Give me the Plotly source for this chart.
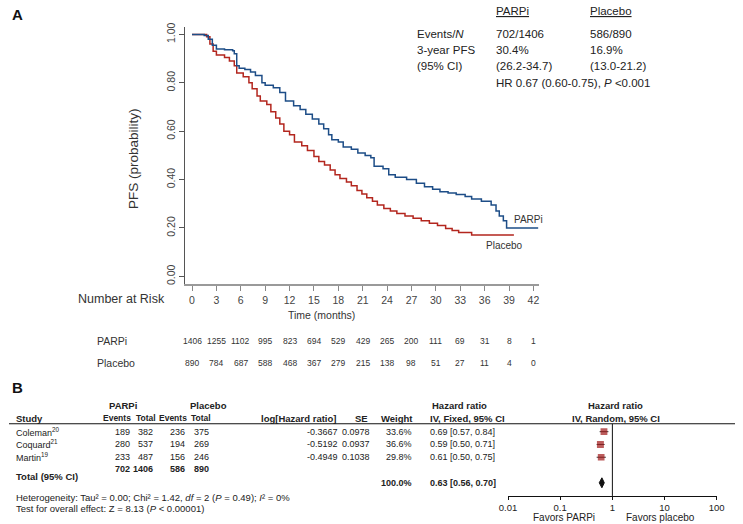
import plotly.graph_objects as go

W, H = 743, 524

# ---------------- Panel A: Kaplan-Meier data ----------------
parp_t = [0, 1.5, 2.0, 2.5, 3.0, 4.0, 5.0, 5.2, 5.5, 5.8, 6.5, 7.2, 7.8, 8.6, 9.0, 10.0,
          10.8, 11.5, 12.5, 13.3, 14.0, 14.8, 15.6, 16.2, 16.8, 17.2, 18.0, 18.6, 19.6,
          20.4, 21.3, 22.0, 22.4, 23.5, 24.2, 25.0, 26.4, 27.6, 28.6, 29.6, 30.5, 31.5,
          32.5, 33.6, 34.4, 35.6, 36.8, 37.4, 37.8, 38.3, 38.7, 42.6]
parp_s = [1.0, 0.995, 0.98, 0.955, 0.94, 0.937, 0.932, 0.92, 0.87, 0.86, 0.855, 0.845,
          0.83, 0.80, 0.79, 0.78, 0.76, 0.725, 0.705, 0.69, 0.67, 0.65, 0.63, 0.61, 0.585,
          0.565, 0.555, 0.535, 0.525, 0.51, 0.50, 0.49, 0.455, 0.445, 0.42, 0.41, 0.40,
          0.385, 0.37, 0.36, 0.35, 0.345, 0.338, 0.33, 0.32, 0.31, 0.295, 0.27, 0.25, 0.23,
          0.20, 0.20]

plac_t = [0, 1.8, 2.2, 2.6, 3.0, 4.0, 4.6, 5.2, 5.5, 6.3, 7.0, 7.4, 8.0, 8.4, 9.2, 9.7,
          10.3, 10.8, 11.3, 12.0, 12.6, 13.5, 14.2, 15.0, 15.6, 16.3, 17.0, 17.6, 18.2,
          19.0, 19.6, 20.3, 20.9, 21.5, 22.2, 22.8, 23.6, 24.4, 25.2, 26.2, 27.2, 28.2,
          29.2, 30.2, 31.2, 32.0, 32.8, 34.4, 39.6]
plac_s = [1.0, 0.99, 0.96, 0.93, 0.915, 0.905, 0.89, 0.87, 0.84, 0.825, 0.80, 0.775,
          0.745, 0.725, 0.71, 0.68, 0.655, 0.63, 0.60, 0.585, 0.555, 0.54, 0.52, 0.495,
          0.475, 0.46, 0.44, 0.42, 0.405, 0.39, 0.375, 0.355, 0.34, 0.325, 0.31, 0.295,
          0.28, 0.27, 0.26, 0.25, 0.24, 0.23, 0.22, 0.21, 0.198, 0.19, 0.181, 0.171, 0.171]

x_ticks = [0, 3, 6, 9, 12, 15, 18, 21, 24, 27, 30, 33, 36, 39, 42]
y_ticks = [0.0, 0.2, 0.4, 0.6, 0.8, 1.0]
risk_parp = [1406, 1255, 1102, 995, 823, 694, 529, 429, 265, 200, 111, 69, 31, 8, 1]
risk_plac = [890, 784, 687, 588, 468, 367, 279, 215, 138, 98, 51, 27, 11, 4, 0]

summary_rows = ["Events/<i>N</i>", "3-year PFS", "(95% CI)"]
summary_parp = ["702/1406", "30.4%", "(26.2-34.7)"]
summary_plac = ["586/890", "16.9%", "(13.0-21.2)"]
hr_text = "HR 0.67 (0.60-0.75), <i>P</i> &lt;0.001"

# ---------------- Panel B: meta-analysis data ----------------
studies = ["Coleman<sup>20</sup>", "Coquard<sup>21</sup>", "Martin<sup>19</sup>"]
parp_events = [189, 280, 233]
parp_total = [382, 537, 487]
plac_events = [236, 194, 156]
plac_total = [375, 269, 246]
log_hr = [-0.3667, -0.5192, -0.4949]
se = [0.0978, 0.0937, 0.1038]
weight = [33.6, 36.6, 29.8]
hr = [0.69, 0.59, 0.61]
hr_lo = [0.57, 0.50, 0.50]
hr_hi = [0.84, 0.71, 0.75]
tot_events = [702, 1406, 586, 890]
tot_weight = 100.0
tot_hr, tot_lo, tot_hi = 0.63, 0.56, 0.70
forest_ticks = [0.01, 0.1, 1, 10, 100]
forest_ticklabels = ["0.01", "0.1", "1", "10", "100"]
heterogeneity = ("Heterogeneity: Tau\u00b2 = 0.00; Chi\u00b2 = 1.42, <i>df</i> = 2 "
                 "(<i>P</i> = 0.49); <i>I</i>\u00b2 = 0%")
overall = "Test for overall effect: Z = 8.13 (<i>P</i> &lt; 0.00001)"

# ---------------- helpers ----------------
FONT = "Liberation Sans, Arial, sans-serif"
BLUE = "#1d4d87"
RED = "#b3261e"
DKRED = "#a01818"


def px(x):
    return x / W


def py(y):
    return 1 - y / H


# KM axis pixel mapping
X0_PIX, X42_PIX = 187.3, 536.7
ppm = (X42_PIX - X0_PIX) / 42.0
KM_L, KM_R = 180, 542
xr = [(KM_L - X0_PIX) / ppm, (KM_R - X0_PIX) / ppm]
Y1_PIX, Y0_PIX = 30.7, 275.0
ppu = Y0_PIX - Y1_PIX
KM_T, KM_B = 23, 283
yr = [-(KM_B - Y0_PIX) / ppu, 1 + (Y1_PIX - KM_T) / ppu]

# forest axis mapping
F_L, F_R = 510.7, 724.3
F_T, F_B = 423.8, 496.7
row_pix1, row_step = 431.8, 12.9
fy_top = 1 - (row_pix1 - F_T) / row_step
fy_bot = 1 + (F_B - row_pix1) / row_step
rows = [1, 2, 3]
tot_row = 5

fig = go.Figure()

fig.add_trace(go.Scatter(x=plac_t, y=plac_s, mode="lines", line=dict(color=RED, width=1.5, shape="hv"),
                         xaxis="x", yaxis="y", hoverinfo="skip"))
fig.add_trace(go.Scatter(x=parp_t, y=parp_s, mode="lines", line=dict(color=BLUE, width=1.5, shape="hv"),
                         xaxis="x", yaxis="y", hoverinfo="skip"))

# forest squares with CI whiskers
sizes = [5.5 + w / 25 for w in weight]
fig.add_trace(go.Scatter(
    x=hr, y=rows, mode="markers", xaxis="x2", yaxis="y2",
    marker=dict(symbol="square", color=DKRED, size=sizes, line=dict(width=0)),
    error_x=dict(type="data", symmetric=False,
                 array=[h - e for h, e in zip(hr_hi, hr)],
                 arrayminus=[e - l for e, l in zip(hr, hr_lo)],
                 color="#333", thickness=1, width=0),
    hoverinfo="skip"))
# pooled diamond
fig.add_trace(go.Scatter(
    x=[tot_lo, tot_hr, tot_hi, tot_hr, tot_lo],
    y=[tot_row, tot_row - 0.39, tot_row, tot_row + 0.39, tot_row],
    mode="lines", fill="toself", fillcolor="#111", line=dict(color="#111", width=1),
    xaxis="x2", yaxis="y2", hoverinfo="skip"))

ann = []


def T(x, y, text, size=9.5, anchor="left", bold=False, color="#222", angle=0):
    if bold:
        text = "<b>" + text + "</b>"
    ann.append(dict(x=px(x), y=py(y), xref="paper", yref="paper", text=text, showarrow=False,
                    xanchor=anchor, yanchor="middle",
                    font=dict(size=size, color=color, family=FONT), textangle=angle))


# Panel labels
T(1.5, 10.5, "A", size=15, bold=True, color="#111")
T(1.5, 387, "B", size=15, bold=True, color="#111")

# Panel A texts
T(127.5, 156, "PFS (probability)", size=13.5, anchor="center", color="#333", angle=-90)
T(515, 217.5, "PARPi", size=10, color="#333")
T(486.5, 244, "Placebo", size=10, color="#333")
T(496, 7.5, "<u>PARPi</u>", size=11.5)
T(593, 7.5, "<u>Placebo</u>", size=11.5)
for i, (lab, a, b) in enumerate(zip(summary_rows, summary_parp, summary_plac)):
    yy = 30 + i * 16.4
    T(416, yy, lab, size=11.5)
    T(496, yy, a, size=11.5)
    T(593, yy, b, size=11.5)
T(496, 79.3, hr_text, size=11.5)

T(162, 298, "Number at Risk", size=12.5, anchor="right", color="#333")
T(320, 314.5, "Time (months)", size=10.5, anchor="center", color="#333")
T(88, 340, "PARPi", size=10.5, color="#333")
T(88, 362, "Placebo", size=10.5, color="#333")
for t, a, b in zip(x_ticks, risk_parp, risk_plac):
    for yy, v in ((340, a), (362, b)):
        ann.append(dict(x=t, xref="x", y=py(yy), yref="paper", text=str(v), showarrow=False,
                        xanchor="center", yanchor="middle",
                        font=dict(size=8.5, color="#333", family=FONT)))

# Panel B table
VS = 9
HS = 8.5
T(116.7, 405, "PARPi", bold=True, anchor="center")
T(204, 405, "Placebo", bold=True, anchor="center")
T(461.5, 405, "Hazard ratio", bold=True, anchor="center")
T(620.7, 405, "Hazard ratio", bold=True, anchor="center")
T(5, 418, "Study", bold=True)
T(127, 418, "Events", bold=True, anchor="right", size=HS)
T(152, 418, "Total", bold=True, anchor="right", size=HS)
T(184, 418, "Events", bold=True, anchor="right", size=HS)
T(209, 418, "Total", bold=True, anchor="right", size=HS)
T(337, 418, "log[Hazard ratio]", bold=True, anchor="right")
T(369, 418, "SE", bold=True, anchor="right")
T(415, 418, "Weight", bold=True, anchor="right")
T(428.3, 418, "IV, Fixed, 95% CI", bold=True)
T(621, 418, "IV, Random, 95% CI", bold=True, anchor="center")

for r, s, a, b, c, d, l, e, w, h, lo, hi in zip(rows, studies, parp_events, parp_total, plac_events,
                                                 plac_total, log_hr, se, weight, hr, hr_lo, hr_hi):
    yy = row_pix1 + (r - 1) * row_step
    T(5, yy, s, size=VS)
    T(126, yy, str(a), anchor="right", size=VS)
    T(149.5, yy, str(b), anchor="right", size=VS)
    T(182, yy, str(c), anchor="right", size=VS)
    T(207, yy, str(d), anchor="right", size=VS)
    T(338.5, yy, f"{l:.4f}", anchor="right", size=VS)
    T(372, yy, f"{e:.4f}", anchor="right", size=VS)
    T(414, yy, f"{w:.1f}%", anchor="right", size=VS)
    T(429, yy, f"{h:.2f} [{lo:.2f}, {hi:.2f}]", size=VS)

for xr_, v in zip([126, 149.5, 182, 207], tot_events):
    T(xr_, 469, str(v), anchor="right", bold=True, size=VS)
T(5, 477, "Total (95% CI)", bold=True)
yt = row_pix1 + (tot_row - 1) * row_step
T(414, yt, f"{tot_weight:.1f}%", anchor="right", bold=True, size=VS)
T(429, yt, f"{tot_hr:.2f} [{tot_lo:.2f}, {tot_hi:.2f}]", bold=True, size=VS)
T(5, 498.5, heterogeneity)
T(5, 509.5, overall)
T(568, 518, "Favors PARPi", size=10, anchor="center")
T(666.7, 518, "Favors placebo", size=10, anchor="center")

shapes = [
    dict(type="line", xref="paper", yref="paper", x0=0, x1=1, y0=py(F_T), y1=py(F_T),
         line=dict(color="#111", width=1)),
    dict(type="line", xref="x2", yref="paper", x0=1, x1=1, y0=py(F_T), y1=py(F_B),
         line=dict(color="#111", width=1)),
]

fig.update_layout(
    width=W, height=H, margin=dict(l=0, r=0, t=0, b=0),
    paper_bgcolor="white", plot_bgcolor="white", showlegend=False,
    font=dict(family=FONT, color="#222"),
    annotations=ann, shapes=shapes,
    xaxis=dict(domain=[px(KM_L), px(KM_R)], range=xr, anchor="y", tickvals=x_ticks,
               showgrid=False, zeroline=False, showline=True, linecolor="#9a9a9a", linewidth=1.5,
               ticks="outside", ticklen=5, tickcolor="#888",
               tickfont=dict(size=10.5, color="#444", family=FONT)),
    yaxis=dict(domain=[py(KM_B), py(KM_T)], range=yr, anchor="x", tickvals=y_ticks,
               tickformat=".2f", tickangle=-90, showgrid=False, zeroline=False, showline=True,
               linecolor="#555", linewidth=1, ticks="outside", ticklen=5, tickcolor="#555",
               tickfont=dict(size=10.5, color="#444", family=FONT)),
    xaxis2=dict(domain=[px(F_L), px(F_R)], type="log", range=[-2, 2], anchor="y2",
                tickvals=forest_ticks, ticktext=forest_ticklabels, showgrid=False,
                zeroline=False, showline=True, linecolor="#111", linewidth=1,
                ticks="outside", ticklen=3, tickcolor="#111",
                tickfont=dict(size=9.5, color="#222", family=FONT)),
    yaxis2=dict(domain=[py(F_B), py(F_T)], range=[fy_bot, fy_top], anchor="x2",
                visible=False, showgrid=False, zeroline=False),
)

fig.write_html("out.html", config={"displayModeBar": False},
               post_script="document.body.style.margin='0';document.body.style.overflow='hidden';")
